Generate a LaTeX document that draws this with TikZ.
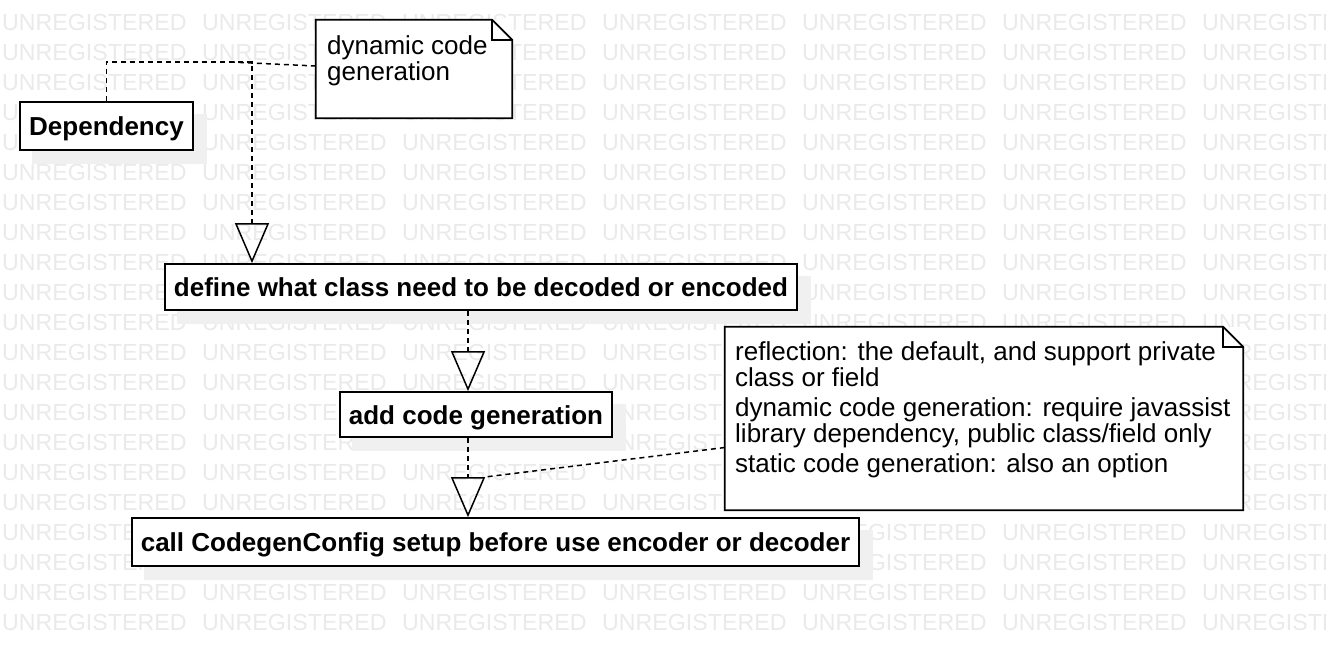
\documentclass[tikz,border=0pt]{standalone}
\usepackage{fontspec}
\setmainfont{Liberation Sans}
\usetikzlibrary{arrows.meta,calc}
\definecolor{wmgray}{HTML}{EAEAEA}
\definecolor{shgray}{HTML}{F0F0F0}
\pgfdeclarelayer{wmlayer}
\pgfdeclarelayer{shlayer}
\pgfsetlayers{wmlayer,shlayer,main}
\begin{document}
\begin{tikzpicture}[x=1pt,y=-1pt,
  box/.style={draw=black,line width=1.8pt,fill=white,inner sep=0pt,text height=19pt,text depth=0pt,font=\bfseries\fontsize{26}{26}\selectfont},
  notebox/.style={draw=none,fill=white,inner sep=0pt},
  noteline/.style={line width=1.8pt,line join=miter},
  notetext/.style={inner sep=0pt,align=left,font=\fontsize{26}{26}\selectfont},
  wm/.style={text=wmgray,font=\fontsize{23.2}{23.2}\selectfont,anchor=base west,inner sep=0pt},
  shadowfill/.style={fill=shgray,draw=none},
  dashline/.style={dash pattern=on 5pt off 4pt,line width=1.5pt},
  gen/.style={dashline,-{Triangle[open,length=40pt,width=34pt,line width=1.5pt]}}]
\useasboundingbox (0,0) rectangle (1326,646);
% boxes
\node[box,minimum width=173pt,minimum height=48pt] (dep) at (106.5,126) {Dependency};
\node[box,minimum width=632pt,minimum height=46pt] (def) at (481,287) {define what class need to be decoded or encoded};
\node[box,minimum width=272pt,minimum height=45pt] (add) at (476,414.5) {add code generation};
\node[box,minimum width=727pt,minimum height=48pt] (call) at (495.5,542) {call CodegenConfig setup before use encoder or decoder};
% background watermark and shadows
\begin{pgfonlayer}{wmlayer}
\fill[white] (0,0) rectangle (1326,646);
\begin{scope}
\clip (0,0) rectangle (1326,646);
\foreach \r in {0,...,20}{\foreach \c in {0,...,6}{
  \node[wm] (wm-\r-\c) at ({2+200*\c},{30+30*\r}) {UNREGISTERED};}}
\end{scope}
\end{pgfonlayer}
\begin{pgfonlayer}{shlayer}
\foreach \n in {dep,def,add,call}{
  \fill[shadowfill] ([shift={(13,13)}]\n.north west) rectangle ([shift={(13,13)}]\n.south east);}
\end{pgfonlayer}
% notes
\node[notebox,minimum width=196pt,minimum height=98pt] (n1) at (414,69) {};
\draw[noteline] (n1.north west) -- ([xshift=-20pt]n1.north east) -- ([yshift=-20pt]n1.north east) -- (n1.south east) -- (n1.south west) -- cycle;
\draw[noteline] ([xshift=-20pt]n1.north east) |- ([yshift=-20pt]n1.north east);
\node[notetext,anchor=north west] (n1t) at (327,35) {dynamic code\\generation};
\node[notebox,minimum width=518pt,minimum height=183pt] (n2) at (984,418.5) {};
\draw[noteline] (n2.north west) -- ([xshift=-20pt]n2.north east) -- ([yshift=-20pt]n2.north east) -- (n2.south east) -- (n2.south west) -- cycle;
\draw[noteline] ([xshift=-20pt]n2.north east) |- ([yshift=-20pt]n2.north east);
\node[notetext,anchor=north west] (n2t) at (735,341) {reflection: the default, and support private\\class or field\\[4pt]dynamic code generation: require javassist\\library dependency, public class/field only\\[4pt]static code generation: also an option};
% connectors
\coordinate (k1) at (252,62);
\coordinate (k2) at (468,0);
\coordinate (k3) at (485,477);
\coordinate (k4) at (230,62);
\draw[gen] (dep.north) |- (k1) -- (k1 |- def.north);
\draw[gen] (def.south -| k2) -- (add.north -| k2);
\draw[gen] (add.south -| k2) -- (call.north -| k2);
\draw[dashline] ([yshift=3pt]n1.west) -- (k4);
\draw[dashline] ([yshift=-29pt]n2.west) -- (k3);
\end{tikzpicture}
\end{document}
